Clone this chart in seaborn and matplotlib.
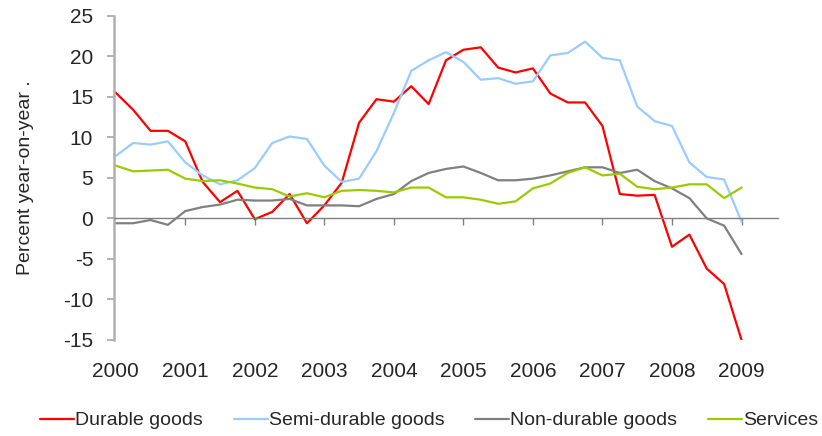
import numpy as np
import pandas as pd
import matplotlib
matplotlib.use("Agg")
import matplotlib.pyplot as plt
import seaborn as sns

# ── Data (quarterly, 2000Q1 - 2009Q1, percent y/y) ────────────────────────────
years = ['2000', '2001', '2002', '2003', '2004', '2005', '2006', '2007', '2008', '2009']

durable = [15.5, 13.4, 10.8, 10.8, 9.5, 4.5, 2.0, 3.4, -0.1, 0.8, 3.0, -0.6,
           1.6, 4.4, 11.8, 14.7, 14.4, 16.3, 14.1, 19.5, 20.8, 21.1, 18.6, 18.0,
           18.5, 15.4, 14.3, 14.3, 11.4, 3.0, 2.8, 2.9, -3.5, -2.0, -6.2, -8.1, -15.0]
semi_durable = [7.7, 9.3, 9.1, 9.5, 6.9, 5.3, 4.2, 4.7, 6.2, 9.3, 10.1, 9.8,
                6.5, 4.5, 4.9, 8.3, 13.0, 18.2, 19.5, 20.5, 19.3, 17.1, 17.3, 16.6,
                16.9, 20.1, 20.4, 21.8, 19.8, 19.5, 13.8, 12.0, 11.4, 6.9, 5.1, 4.8, -0.4]
non_durable = [-0.6, -0.6, -0.2, -0.8, 0.9, 1.4, 1.7, 2.3, 2.2, 2.2, 2.4, 1.6,
               1.6, 1.6, 1.5, 2.4, 3.0, 4.6, 5.6, 6.1, 6.4, 5.6, 4.7, 4.7,
               4.9, 5.3, 5.8, 6.3, 6.3, 5.6, 6.0, 4.6, 3.7, 2.5, 0.0, -0.9, -4.4]
services = [6.5, 5.8, 5.9, 6.0, 4.9, 4.6, 4.7, 4.3, 3.8, 3.6, 2.7, 3.1,
            2.6, 3.4, 3.5, 3.4, 3.2, 3.8, 3.8, 2.6, 2.6, 2.3, 1.8, 2.1,
            3.7, 4.3, 5.6, 6.3, 5.3, 5.5, 3.9, 3.6, 3.8, 4.2, 4.2, 2.5, 3.8]

series_names = ['Durable goods', 'Semi-durable goods', 'Non-durable goods', 'Services']
colors = ['#FF0000', '#99CCFF', '#808080', '#99CC00']

quarter = np.arange(len(durable))
df = pd.DataFrame({'quarter': quarter,
                   series_names[0]: durable,
                   series_names[1]: semi_durable,
                   series_names[2]: non_durable,
                   series_names[3]: services})
long_df = df.melt(id_vars='quarter', var_name='series', value_name='value')

# ── Style ─────────────────────────────────────────────────────────────────────
sns.set_style('white')
plt.rcParams['font.family'] = ['Liberation Sans', 'DejaVu Sans']
plt.rcParams['axes.unicode_minus'] = False

fig = plt.figure(figsize=(8.22, 4.36), dpi=100)
ax = fig.add_axes([0.1387, 0.2202, 0.8078, 0.7438])

sns.lineplot(data=long_df, x='quarter', y='value', hue='series',
             hue_order=series_names, palette=colors, linewidth=1.6,
             ax=ax, legend=False)

ax.set_xlim(-0.1, 38.1)
ax.set_ylim(-15, 25)
ax.set_yticks(np.arange(-15, 26, 5))
ax.tick_params(axis='y', labelsize=15, length=5, width=1.2, color='#A6A6A6',
               direction='out', pad=10, left=True)
ax.set_ylabel('Percent year-on-year .', fontsize=14, labelpad=21)
ax.set_xlabel('')

# x axis crossing at zero with year ticks
ax.spines['bottom'].set_position(('data', 0))
ax.spines['bottom'].set_color('#808080')
ax.spines['bottom'].set_linewidth(1.0)
ax.spines['left'].set_color('#B0B0B0')
ax.spines['left'].set_linewidth(1.8)
ax.spines['top'].set_visible(False)
ax.spines['right'].set_visible(False)
ax.set_xticks(quarter[4::4])
ax.set_xticklabels([])
ax.tick_params(axis='x', length=5, width=1.0, color='#808080', direction='out', bottom=True)

# year labels below the plot
sec = ax.secondary_xaxis('bottom')
sec.set_xticks(quarter[::4])
sec.set_xticklabels(years)
sec.tick_params(length=0, labelsize=15, pad=16)
sec.spines['bottom'].set_visible(False)

# legend
handles = [plt.Line2D([], [], color=c, linewidth=1.6) for c in colors]
fig.legend(handles, series_names, loc='lower center', bbox_to_anchor=(0.522, -0.025),
           ncol=4, frameon=False, fontsize=14, handlelength=1.75,
           handletextpad=0.05, columnspacing=1.6)

fig.savefig('out.png', dpi=100)
